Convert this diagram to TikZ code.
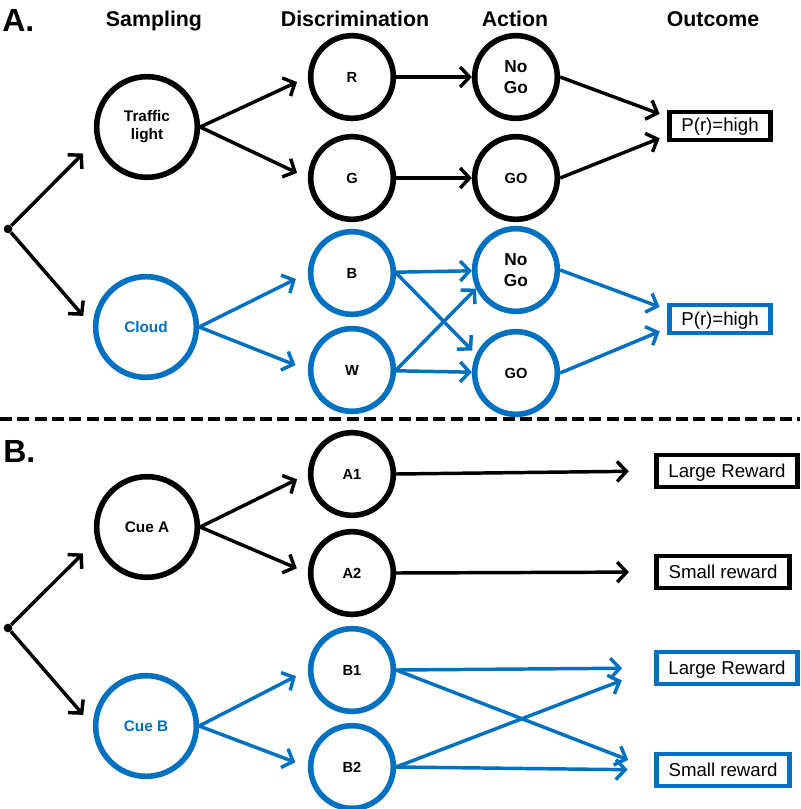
\documentclass[tikz,border=0pt]{standalone}
\usepackage{fontspec}
\setmainfont{Liberation Sans}
\usetikzlibrary{arrows.meta}
\definecolor{cueblue}{RGB}{0,112,192}

\tikzstyle{bigstate} = [circle, minimum size=75.5pt, inner sep=0pt, line width=4.2pt, draw=black, align=center, font=\bfseries\fontsize{11.5}{13.5}\selectfont]
\tikzstyle{state} = [circle, minimum size=62pt, inner sep=0pt, line width=4.2pt, draw=black, align=center, font=\bfseries\fontsize{11}{13}\selectfont]
\tikzstyle{outcome} = [rectangle, minimum height=24pt, inner xsep=9pt, inner ysep=0pt, text height=11pt, text depth=2pt, line width=3.4pt, draw=black, font=\fontsize{14}{16}\selectfont]
\tikzstyle{heading} = [anchor=base, font=\bfseries\fontsize{16}{18}\selectfont]
\tikzstyle{panel} = [anchor=base west, inner sep=0pt, font=\bfseries\fontsize{24}{26}\selectfont]
\tikzstyle{dot} = [circle, fill=black, inner sep=0pt, minimum size=6.5pt]
\tikzstyle{arrow} = [line width=2.6pt, -{Straight Barb[length=7pt,width=15pt]}]
\tikzstyle{cue} = [draw=cueblue, color=cueblue]

\begin{document}
\begin{tikzpicture}[x=0.75pt, y=-0.75pt]
\useasboundingbox (0,0) rectangle (800,809);

% headings
\node (pa) [panel] at (2,32) {A.};
\node (pb) [panel] at (3,462) {B.};
\node (hsamp) [heading] at (154,27) {Sampling};
\node (hdisc) [heading] at (355,27) {Discrimination};
\node (hact) [heading] at (515,27) {Action};
\node (hout) [heading] at (713,27) {Outcome};

% A. go / no-go
\node (dotA) [dot] at (8,229) {};
\node (light) [bigstate] at (147,127) {Traffic\\light};
\node (red) [state] at (352,77) {R};
\node (green) [state] at (352,178) {G};
\node (nogoA) [state, font=\bfseries\fontsize{13}{15.5}\selectfont] at (516,77) {No\\Go};
\node (goA) [state] at (516,178) {GO};
\node (highA) [outcome, minimum height=21pt] at (720,126) {P(r)=high};

\node (cloud) [bigstate, cue, text=cueblue] at (146,327) {Cloud};
\node (bl) [state, cue, text=black] at (352,273) {B};
\node (wh) [state, cue, text=black] at (352,370) {W};
\node (nogoB) [state, cue, text=black, font=\bfseries\fontsize{13}{15.5}\selectfont] at (516,270) {No\\Go};
\node (goB) [state, cue, text=black] at (516,373) {GO};
\node (highB) [outcome, cue, text=black, minimum height=21pt] at (720,319) {P(r)=high};

\draw [arrow, shorten >=13.5pt] (dotA) -- (light.195);
\draw [arrow, shorten >=11pt] (dotA) -- (cloud.west);
\draw [arrow, shorten >=9pt] (light.east) -- (red.west);
\draw [arrow, shorten >=9pt] (light.east) -- (green.west);
\draw [arrow] (red) -- (nogoA);
\draw [arrow] (green) -- (goA);
\draw [arrow, shorten >=6pt] (nogoA.east) -- (highA.170);
\draw [arrow, shorten >=6pt] (goA.east) -- (highA.190);

\draw [arrow, cue, shorten >=10pt] (cloud.east) -- (bl.west);
\draw [arrow, cue, shorten >=10pt] (cloud.east) -- (wh.west);
\draw [arrow, cue] (bl) -- (nogoB);
\draw [arrow, cue, shorten >=4pt] (bl.east) -- (goB.155);
\draw [arrow, cue] (wh.east) -- (nogoB.205);
\draw [arrow, cue] (wh) -- (goB);
\draw [arrow, cue, shorten >=6pt] (nogoB.east) -- (highB.170);
\draw [arrow, cue, shorten >=6pt] (goB.east) -- (highB.190);

\draw [line width=3pt, dash pattern=on 9pt off 4pt] (0,419) -- (800,419);

% B. reward
\node (dotB) [dot] at (8,628) {};
\node (cuea) [bigstate] at (147,527) {Cue A};
\node (aone) [state] at (352,474) {A1};
\node (atwo) [state] at (352,573) {A2};
\node (largeA) [outcome] at (727,471) {Large Reward};
\node (smallA) [outcome] at (723,572) {Small reward};

\node (cueb) [bigstate, cue, text=cueblue] at (146,726) {Cue B};
\node (bone) [state, cue, text=black] at (352,670) {B1};
\node (btwo) [state, cue, text=black] at (352,767) {B2};
\node (largeB) [outcome, cue, text=black] at (727,668) {Large Reward};
\node (smallB) [outcome, cue, text=black] at (723,770) {Small reward};

\draw [arrow, shorten >=13.5pt] (dotB) -- (cuea.195);
\draw [arrow, shorten >=11pt] (dotB) -- (cueb.west);
\draw [arrow, shorten >=9pt] (cuea.east) -- (aone.west);
\draw [arrow, shorten >=9pt] (cuea.east) -- (atwo.west);
\draw [arrow, shorten >=19pt] (aone.east) -- (largeA.west);
\draw [arrow, shorten >=19pt] (atwo.east) -- (smallA.west);

\draw [arrow, cue, shorten >=10pt] (cueb.east) -- (bone.west);
\draw [arrow, cue, shorten >=10pt] (cueb.east) -- (btwo.west);
\draw [arrow, cue, shorten >=24pt] (bone.east) -- (largeB.west);
\draw [arrow, cue, shorten >=21pt] (bone.east) -- (smallB.west);
\draw [arrow, cue, shorten >=26pt] (btwo.east) -- (largeB.west);
\draw [arrow, cue, shorten >=20pt] (btwo.east) -- (smallB.west);

\end{tikzpicture}
\end{document}
